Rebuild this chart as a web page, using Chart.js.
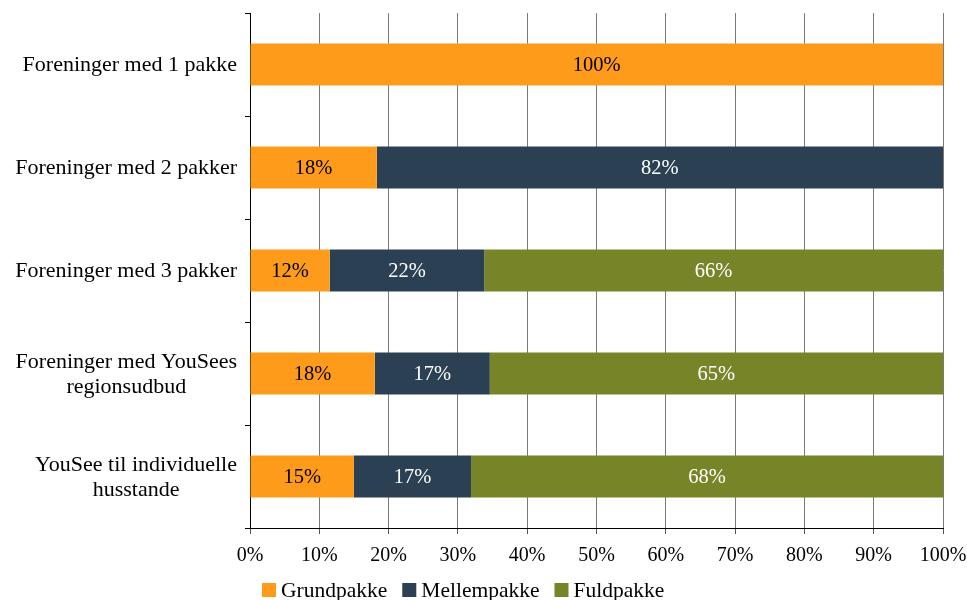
<!DOCTYPE html>
<html>
<head>
<meta charset="utf-8">
<script src="https://cdn.jsdelivr.net/npm/chart.js@4"></script>
<style>
    html, body { margin: 0; padding: 0; background: #fff; }
    #wrap { width: 967px; height: 600px; }
</style>
</head>
<body>
<div id="wrap"><canvas id="chart"></canvas></div>
<script>
const categories = [
    'Foreninger med 1 pakke',
    'Foreninger med 2 pakker',
    'Foreninger med 3 pakker',
    ['Foreninger med YouSees', 'regionsudbud'],
    ['YouSee til individuelle', 'husstande']
];
const grundpakke = [100, 18.3, 11.5, 18.0, 15.0];
const mellempakke = [0, 81.7, 22.3, 16.6, 16.9];
const fuldpakke = [0, 0, 66.2, 65.4, 68.1];
const xTicks = [0, 10, 20, 30, 40, 50, 60, 70, 80, 90, 100];

const FONT = '"Liberation Serif", "Times New Roman", serif';

// rounded percentage in the middle of each segment
const barLabels = {
    id: 'barLabels',
    afterDatasetsDraw(chart) {
        const ctx = chart.ctx;
        ctx.save();
        ctx.font = '20.5px ' + FONT;
        ctx.textAlign = 'center';
        ctx.textBaseline = 'middle';
        chart.data.datasets.forEach((ds, i) => {
            const meta = chart.getDatasetMeta(i);
            meta.data.forEach((bar, j) => {
                const v = ds.data[j];
                if (!v) return;
                ctx.fillStyle = ds.labelColor;
                ctx.fillText(Math.round(v) + '%', (bar.x + bar.base) / 2, bar.y + 1);
            });
        });
        ctx.restore();
    }
};

// category labels: block right-aligned to the axis, lines centred inside the block
const catLabels = {
    id: 'catLabels',
    afterDraw(chart) {
        const ctx = chart.ctx;
        const y = chart.scales.y;
        const right = y.right - 13;
        const lh = 25;
        ctx.save();
        ctx.font = '22px ' + FONT;
        ctx.fillStyle = '#000';
        ctx.textAlign = 'center';
        ctx.textBaseline = 'middle';
        chart.data.labels.forEach((lab, i) => {
            const lines = Array.isArray(lab) ? lab : [lab];
            const w = Math.max(...lines.map(l => ctx.measureText(l).width));
            const cx = right - w / 2;
            const cy = y.getPixelForValue(i) + 1;
            lines.forEach((l, k) => {
                ctx.fillText(l, cx, cy + (k - (lines.length - 1) / 2) * lh);
            });
        });
        ctx.restore();
    }
};

// legend row under the axis, packed tight like the original
const legendRow = {
    id: 'legendRow',
    afterDraw(chart) {
        const ctx = chart.ctx;
        ctx.save();
        ctx.font = '21.5px ' + FONT;
        ctx.textBaseline = 'middle';
        ctx.textAlign = 'left';
        let x = chart.scales.y.right + 12;
        const yMid = 590;
        chart.data.datasets.forEach(ds => {
            ctx.fillStyle = ds.backgroundColor;
            ctx.fillRect(x, yMid - 7, 14, 14);
            ctx.fillStyle = '#000';
            ctx.fillText(ds.label, x + 19, yMid + 1);
            x += 19 + ctx.measureText(ds.label).width + 15;
        });
        ctx.restore();
    }
};

const ctx = document.getElementById('chart').getContext('2d');
new Chart(ctx, {
    type: 'bar',
    data: {
        labels: categories,
        datasets: [
            { label: 'Grundpakke', data: grundpakke, backgroundColor: '#FF9B1A', labelColor: '#000' },
            { label: 'Mellempakke', data: mellempakke, backgroundColor: '#2B4052', labelColor: '#fff' },
            { label: 'Fuldpakke', data: fuldpakke, backgroundColor: '#778428', labelColor: '#fff' }
        ]
    },
    options: {
        indexAxis: 'y',
        responsive: true,
        maintainAspectRatio: false,
        animation: false,
        layout: { padding: { left: 13, right: 24, top: 13, bottom: 22 } },
        datasets: { bar: { categoryPercentage: 1, barPercentage: 0.41 } },
        scales: {
            x: {
                stacked: true,
                min: 0,
                max: 100,
                afterBuildTicks: (scale) => { scale.ticks = xTicks.map(v => ({ value: v })); },
                afterFit: (scale) => { scale.paddingLeft = 0; scale.paddingRight = 0; },
                border: { color: '#000', width: 1 },
                grid: { color: '#7a7a7a', tickLength: 6, tickColor: '#555' },
                ticks: {
                    color: '#000',
                    font: { family: FONT, size: 20 },
                    padding: 10,
                    maxRotation: 0,
                    callback: (v) => v + '%'
                }
            },
            y: {
                stacked: true,
                afterFit: (scale) => { scale.width = 237; },
                border: { color: '#000', width: 1 },
                grid: { drawOnChartArea: false, tickLength: 5, tickColor: '#000', offset: true },
                ticks: { display: false }
            }
        },
        plugins: {
            legend: { display: false },
            tooltip: { enabled: false }
        }
    },
    plugins: [barLabels, catLabels, legendRow]
});
</script>
</body>
</html>
